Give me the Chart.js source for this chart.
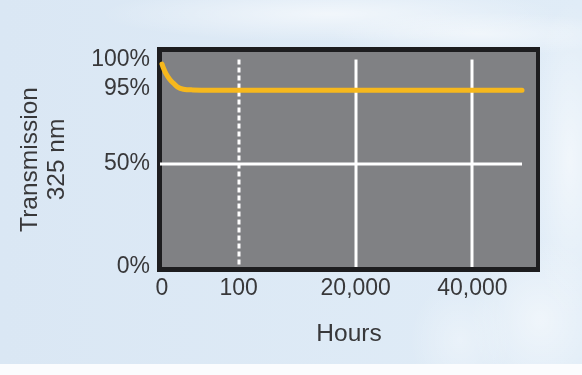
<!DOCTYPE html>
<html>
<head>
<meta charset="utf-8">
<script src="https://cdn.jsdelivr.net/npm/chart.js@4"></script>
<style>
  html, body { margin: 0; padding: 0; }
  body {
    width: 582px;
    height: 375px;
    overflow: hidden;
    background:
      linear-gradient(to bottom, rgba(255,255,255,0) 0 364px, #fbfcfe 364px),
      radial-gradient(ellipse 230px 28px at 330px 14px, rgba(255,255,255,0.6), rgba(255,255,255,0)),
      radial-gradient(ellipse 150px 22px at 480px 34px, rgba(255,255,255,0.55), rgba(255,255,255,0)),
      radial-gradient(ellipse 40px 160px at 570px 160px, rgba(255,255,255,0.55), rgba(255,255,255,0)),
      radial-gradient(ellipse 70px 80px at 540px 320px, rgba(255,255,255,0.5), rgba(255,255,255,0)),
      radial-gradient(ellipse 50px 60px at 460px 340px, rgba(255,255,255,0.35), rgba(255,255,255,0)),
      linear-gradient(to right, #dae7f4, #e0ecf7);
  }
  canvas { display: block; }
</style>
</head>
<body>
<canvas id="chart" width="582" height="375"></canvas>
<script>
// values
const hours = [0, 2, 5, 10, 15, 20, 28, 40, 100, 20000, 40000, 48500];
const transmission = [99.2, 98.5, 97.6, 96.6, 95.9, 95.3, 94.6, 94.2, 94, 94, 94, 94];

// broken axes: tick values and where they sit along the axis (0..1)
const xTickValues = [0, 100, 20000, 40000];
const xTickLabels = ['0', '100', '20,000', '40,000'];
const xTickSpots = [0, 0.205, 0.518, 0.83];
const yTickValues = [0, 50, 95, 100];
const yTickLabels = ['0%', '50%', '95%', '100%'];
const yTickSpots = [0, 0.479, 0.83, 0.965];

// piecewise linear mapping value -> axis spot
const toSpot = (v, vals, spots) => {
  let i = 1;
  while (i < vals.length - 1 && v > vals[i]) i++;
  const t = (v - vals[i - 1]) / (vals[i] - vals[i - 1]);
  return spots[i - 1] + t * (spots[i] - spots[i - 1]);
};
const xs = v => toSpot(v, xTickValues, xTickSpots);
const ys = v => toSpot(v, yTickValues, yTickSpots);

const points = hours.map((h, i) => ({ x: xs(h), y: ys(transmission[i]) }));

const textColor = '#38383a';
const font = 'Liberation Sans, Arial, Helvetica, sans-serif';

// black frame, grey plot area, white grid lines
const framePlugin = {
  id: 'frame',
  beforeDraw(chart) {
    const { ctx, chartArea: a } = chart;
    ctx.save();
    ctx.fillStyle = '#1d1d1f';
    ctx.fillRect(a.left - 5, a.top - 5, a.right - a.left + 9, a.bottom - a.top + 10);
    ctx.fillStyle = '#808184';
    ctx.fillRect(a.left, a.top, a.right - a.left, a.bottom - a.top);
    ctx.restore();
  },
  beforeDatasetsDraw(chart) {
    const { ctx, scales: { x, y } } = chart;
    const yTop = y.getPixelForValue(ys(100));
    const yBot = y.getPixelForValue(0);
    ctx.save();
    ctx.strokeStyle = '#ffffff';
    ctx.lineWidth = 3;
    // vertical lines, the first break is dashed
    xTickValues.slice(1).forEach((v, i) => {
      const px = Math.round(x.getPixelForValue(xs(v)));
      ctx.setLineDash(i === 0 ? [5, 3] : []);
      ctx.beginPath();
      ctx.moveTo(px, yTop);
      ctx.lineTo(px, yBot);
      ctx.stroke();
    });
    // 50% line
    ctx.setLineDash([]);
    const py = Math.round(y.getPixelForValue(ys(50)));
    ctx.beginPath();
    ctx.moveTo(x.getPixelForValue(0) - 2, py);
    ctx.lineTo(x.getPixelForValue(xs(hours[hours.length - 1])), py);
    ctx.stroke();
    ctx.restore();
  }
};

new Chart(document.getElementById('chart'), {
  type: 'line',
  data: {
    datasets: [{
      data: points,
      borderColor: '#f6b81d',
      borderWidth: 5,
      borderCapStyle: 'round',
      borderJoinStyle: 'round',
      cubicInterpolationMode: 'monotone',
      pointRadius: 0,
      clip: false
    }]
  },
  options: {
    responsive: false,
    animation: false,
    layout: { padding: { top: 52, right: 46, bottom: 26, left: 0 } },
    plugins: { legend: { display: false }, tooltip: { enabled: false } },
    scales: {
      x: {
        type: 'linear',
        min: 0,
        max: 1,
        grid: { display: false, drawTicks: false },
        border: { display: false },
        afterBuildTicks: s => { s.ticks = xTickSpots.map(v => ({ value: v })); },
        afterFit: s => { s.height = 82; },
        ticks: {
          padding: 8,
          maxRotation: 0,
          color: textColor,
          font: { family: font, size: 23 },
          callback: (v, i) => xTickLabels[i]
        },
        title: {
          display: true,
          text: 'Hours',
          color: textColor,
          font: { family: font, size: 24.5 },
          padding: { top: 0, bottom: 0 }
        }
      },
      y: {
        type: 'linear',
        min: 0,
        max: 1,
        grid: { display: false, drawTicks: false },
        border: { display: false },
        afterBuildTicks: s => { s.ticks = yTickSpots.map(v => ({ value: v })); },
        afterFit: s => { s.width = 162; },
        ticks: {
          padding: 12,
          color: textColor,
          font: { family: font, size: 23 },
          callback: (v, i) => yTickLabels[i]
        },
        title: {
          display: true,
          text: ['Transmission', '325 nm'],
          color: textColor,
          font: { family: font, size: 24.5, lineHeight: 1.1 },
          padding: { top: 17, bottom: 0 }
        }
      }
    }
  },
  plugins: [framePlugin]
});
</script>
</body>
</html>
